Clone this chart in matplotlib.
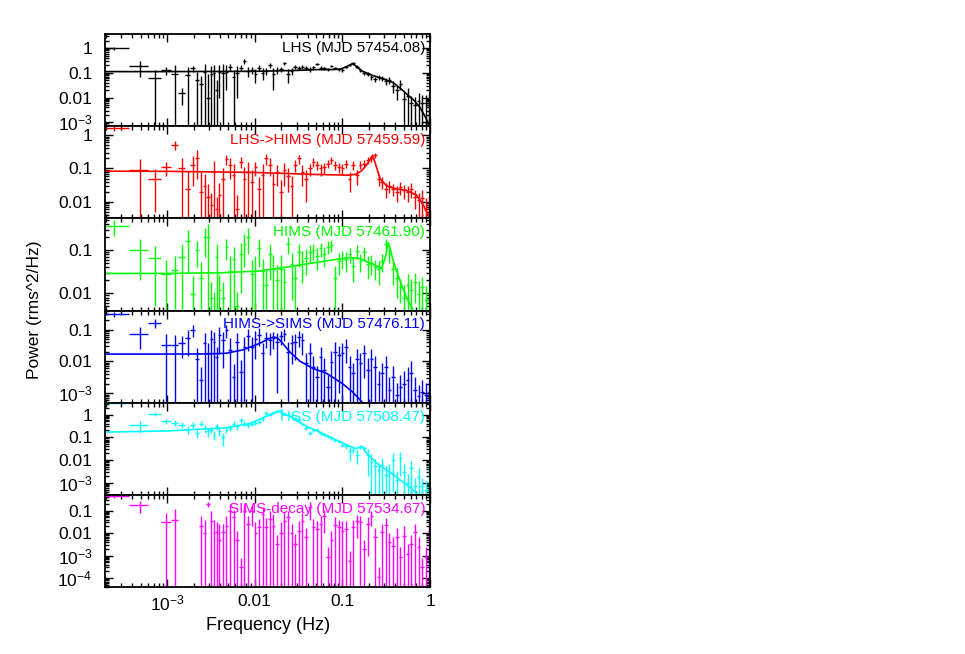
import numpy as np
import matplotlib
matplotlib.use('Agg')
import matplotlib.pyplot as plt
from matplotlib.ticker import LogLocator, FuncFormatter, NullFormatter

plt.rcParams['font.family'] = ['Liberation Sans', 'DejaVu Sans']
plt.rcParams['mathtext.fontset'] = 'custom'
plt.rcParams['mathtext.rm'] = 'Liberation Sans'
plt.rcParams['mathtext.it'] = 'Liberation Sans:italic'
plt.rcParams['mathtext.default'] = 'regular'

nan = np.nan

# frequency bins (Hz), same grid for all observations
freq = [2.44e-4, 4.88e-4, 7.32e-4, 9.77e-4, 1.22e-3, 1.46e-3, 1.71e-3, 1.95e-3,
        2.20e-3, 2.44e-3, 2.69e-3, 2.93e-3, 3.17e-3, 3.42e-3, 3.66e-3, 3.91e-3,
        4.30e-3, 4.73e-3, 5.20e-3, 5.72e-3, 6.30e-3, 6.93e-3, 7.62e-3, 8.38e-3, 9.22e-3,
        0.01014, 0.01115, 0.01227, 0.0135, 0.01485, 0.01633, 0.01797, 0.01976,
        0.02174, 0.02391, 0.0263, 0.02893, 0.03183, 0.03501, 0.03851, 0.04236,
        0.0466, 0.05126, 0.05638, 0.06202, 0.06822, 0.07505, 0.08255, 0.09081,
        0.0999, 0.1099, 0.1209, 0.1329, 0.1462, 0.1609, 0.177, 0.1947, 0.2141,
        0.2355, 0.2591, 0.285, 0.3135, 0.3448, 0.3793, 0.4172, 0.459, 0.5049,
        0.5553, 0.6109, 0.672, 0.7392, 0.8131, 0.8944, 0.9838]

# LHS (MJD 57454.08)
pow_lhs = [1.0, 0.19, 0.06, 0.13, 0.09, 0.015, 0.08, 0.15, 0.05, 0.035, 0.11, 0.01, 0.09, 0.1, 0.02, 0.11,
           0.1, 0.11, 0.17, 0.065, 0.1, 0.16, 0.29, 0.12, 0.13,
           0.09, 0.16, 0.1, 0.12, 0.2, 0.09, 0.13, 0.14, 0.24, 0.09, 0.12, 0.18, 0.16, 0.17, 0.16, 0.14,
           0.17, 0.23, 0.16, 0.15, 0.14, 0.19, 0.16, 0.14,
           0.13, 0.17, 0.21, 0.24, 0.18, 0.13, 0.1, 0.09, 0.065, 0.056, 0.065, 0.06, 0.048, 0.051,
           0.03, 0.02, 0.035, 0.009, 0.012, 0.006, 0.005, 0.0075, 0.006, 0.006, 0.0075]
err_lhs = [0.15, 0.12, 0.065, 0.05, 0.11, 0.01, 0.09, 0.04, 0.06, 0.04, 0.12, 0.08, 0.1, 0.11, 0.03, 0.1,
           0.12, 0.09, 0.05, 0.07, 0.09, 0.04, 0.07, 0.05, 0.04,
           0.05, 0.04, 0.05, 0.04, 0.04, 0.07, 0.04, 0.035, 0.04, 0.05, 0.035, 0.035, 0.03, 0.03, 0.03, 0.03,
           0.025, 0.03, 0.025, 0.025, 0.02, 0.025, 0.02, 0.02,
           0.02, 0.02, 0.025, 0.025, 0.02, 0.02, 0.018, 0.018, 0.015, 0.015, 0.015, 0.015, 0.015, 0.015,
           0.015, 0.012, 0.015, 0.008, 0.012, 0.006, 0.006, 0.008, 0.007, 0.007, 0.008]

# LHS->HIMS (MJD 57459.59)
pow_lh = [1.6, 0.09, 0.05, 0.11, 0.5, 0.1, 0.025, 0.13, 0.2, 0.02, 0.03, 0.014, 0.008, 0.08, 0.006, 0.016,
          0.05, 0.19, 0.13, 0.063, 0.0063, 0.16, 0.05, 0.08, 0.04,
          0.11, 0.025, 0.063, 0.2, 0.13, 0.035, 0.08, 0.02, 0.09, 0.06, 0.03, 0.13, 0.2, 0.08, 0.05, 0.1,
          0.16, 0.13, 0.1, 0.11, 0.14, 0.18, 0.13, 0.11,
          0.1, 0.14, 0.05, 0.13, 0.063, 0.13, 0.14, 0.18, 0.2, 0.25, 0.05, 0.04, 0.025, 0.03,
          0.025, 0.02, 0.028, 0.022, 0.02, 0.025, 0.014, 0.011, 0.013, 0.006, 0.008]
err_lh = [0.3, 0.1, 0.045, 0.05, 0.15, 0.1, 0.06, 0.1, 0.15, 0.06, 0.04, 0.02, 0.01, 0.09, 0.008, 0.02,
          0.05, 0.06, 0.08, 0.07, 0.01, 0.06, 0.06, 0.08, 0.05,
          0.05, 0.03, 0.07, 0.07, 0.07, 0.04, 0.05, 0.025, 0.06, 0.04, 0.03, 0.05, 0.06, 0.05, 0.04, 0.04,
          0.05, 0.04, 0.04, 0.04, 0.04, 0.04, 0.04, 0.035,
          0.035, 0.04, 0.03, 0.04, 0.03, 0.035, 0.035, 0.04, 0.04, 0.05, 0.02, 0.015, 0.012, 0.012,
          0.01, 0.01, 0.012, 0.01, 0.01, 0.012, 0.008, 0.008, 0.01, 0.007, 0.008]

# HIMS (MJD 57461.90)
pow_hims = [0.36, 0.1, 0.065, 0.028, 0.035, 0.07, 0.16, 0.0097, 0.1, 0.023, 0.2, 0.2, 0.008, 0.005, 0.07, 0.012,
            0.008, 0.12, 0.033, 0.062, 0.005, 0.08, 0.14, 0.2, 0.028,
            0.033, 0.11, 0.033, 0.016, 0.08, 0.036, 0.02, 0.036, 0.018, 0.14, 0.047, 0.023, 0.09, 0.057, 0.067, 0.09,
            0.1, 0.075, 0.11, 0.08, 0.12, 0.13, 0.023, 0.057,
            0.067, 0.062, 0.08, 0.043, 0.097, 0.057, 0.09, 0.047, 0.052, 0.04, 0.036, 0.057, 0.14, 0.08,
            0.036, 0.023, 0.014, 0.008, 0.016, 0.012, 0.018, 0.0097, 0.014, 0.007, 0.0097]
err_hims = [0.15, 0.08, 0.06, 0.03, 0.04, 0.07, 0.13, 0.015, 0.06, 0.03, 0.13, 0.2, 0.01, 0.006, 0.07, 0.015,
            0.01, 0.06, 0.04, 0.06, 0.006, 0.07, 0.1, 0.12, 0.03,
            0.04, 0.07, 0.03, 0.02, 0.06, 0.04, 0.025, 0.04, 0.02, 0.06, 0.04, 0.02, 0.05, 0.04, 0.04, 0.04,
            0.04, 0.04, 0.04, 0.04, 0.04, 0.04, 0.02, 0.03,
            0.03, 0.03, 0.03, 0.025, 0.035, 0.025, 0.03, 0.025, 0.025, 0.02, 0.02, 0.025, 0.04, 0.03,
            0.02, 0.015, 0.008, 0.008, 0.012, 0.01, 0.012, 0.01, 0.01, 0.008, 0.01]

# HIMS->SIMS (MJD 57476.11)
pow_hs = [0.3, 0.075, 0.16, 0.034, 0.033, 0.038, 0.055, 0.1, 0.012, 0.0026, 0.037, 0.018, 0.05, 0.04, 0.014, 0.067,
          0.046, 0.095, 0.023, 0.0033, 0.04, 0.0047, 0.029, 0.062, 0.029,
          0.052, 0.07, 0.018, 0.056, 0.046, 0.055, 0.041, 0.062, 0.075, 0.02, 0.038, 0.041, 0.059, 0.046, 0.0087, 0.018,
          0.0068, 0.0033, 0.014, 0.0054, 0.0016, 0.0098, 0.02, 0.016,
          0.018, 0.029, 0.0068, 0.0042, 0.012, 0.0087, 0.018, 0.0054, 0.012, 0.0068, 0.002, 0.0042, 0.0068, 0.0013,
          0.0033, 0.0009, 0.0016, 0.002, 0.0026, 0.0042, 0.0013, 0.0008, 0.0011, 0.0009, 0.0011]
err_hs = [0.05, 0.05, 0.05, 0.04, 0.035, 0.025, 0.04, 0.04, 0.015, 0.004, 0.04, 0.02, 0.05, 0.045, 0.015, 0.05,
          0.04, 0.04, 0.03, 0.005, 0.04, 0.006, 0.03, 0.04, 0.03,
          0.04, 0.04, 0.02, 0.03, 0.03, 0.03, 0.04, 0.03, 0.03, 0.02, 0.03, 0.03, 0.03, 0.03, 0.01, 0.02,
          0.008, 0.004, 0.015, 0.007, 0.002, 0.012, 0.02, 0.015,
          0.02, 0.02, 0.008, 0.005, 0.012, 0.01, 0.015, 0.007, 0.012, 0.008, 0.003, 0.005, 0.008, 0.002,
          0.004, 0.0012, 0.002, 0.003, 0.004, 0.006, 0.002, 0.001, 0.0015, 0.0012, 0.0015]

# HSS (MJD 57508.47)
pow_hss = [3.2, 0.33, 1.07, 0.5, 0.43, 0.36, 0.22, 0.36, 0.155, 0.4, 0.26, 0.18, 0.22, 0.13, 0.3, 0.18,
           0.1, 0.22, 0.26, 0.4, 0.3, 0.56, 0.4, 0.36, 0.39,
           0.43, 0.46, 0.64, 1.2, 1.0, 1.2, 1.4, 1.55, 1.1, 1.0, 0.9, 0.71, 0.56, 0.4, 0.26, 0.155,
           0.2, 0.22, 0.155, 0.13, 0.11, 0.094, 0.074, 0.067,
           0.047, 0.04, 0.024, 0.029, 0.017, 0.04, 0.034, 0.017, 0.0087, 0.0053, 0.0037, 0.0062, 0.0023, 0.0031,
           0.0104, 0.0014, 0.012, 0.0031, 0.001, 0.0045, 0.0007, 0.0019, 0.0007, 0.0005, 0.0045]
err_hss = [0.3, 0.17, 0.2, 0.12, 0.12, 0.1, 0.08, 0.1, 0.06, 0.1, 0.1, 0.08, 0.07, 0.05, 0.08, 0.07,
           0.06, 0.07, 0.07, 0.1, 0.08, 0.12, 0.1, 0.1, 0.09,
           0.09, 0.09, 0.12, 0.2, 0.15, 0.18, 0.2, 0.2, 0.15, 0.13, 0.12, 0.1, 0.08, 0.06, 0.04, 0.03,
           0.035, 0.035, 0.025, 0.02, 0.018, 0.015, 0.012, 0.012,
           0.01, 0.01, 0.015, 0.008, 0.01, 0.008, 0.008, 0.015, 0.01, 0.006, 0.004, 0.006, 0.003, 0.004,
           0.01, 0.002, 0.01, 0.004, 0.0015, 0.005, 0.001, 0.0025, 0.001, 0.0007, 0.005]

# SIMS-decay (MJD 57534.67)
pow_dec = [0.45, 0.18, nan, 0.03, 0.04, nan, nan, nan, nan, 0.02, 0.01, 0.2, 0.036, 0.01, 0.011, 0.005,
           0.011, 0.02, 0.1, 0.05, 0.0047, 0.0003, 0.1, 0.026, 0.1,
           0.01, 0.018, 0.07, 0.018, 0.043, 0.02, 0.0033, 0.01, 0.036, 0.05, 0.01, 0.0033, 0.013, 0.036, 0.0066, 0.14,
           0.018, 0.015, 0.026, 0.06, 0.0009, 0.0047, 0.022, 0.018,
           0.013, 0.015, 0.0006, 0.018, 0.036, 0.03, 0.002, 0.026, 0.06, 0.0066, 0.00011, 0.011, 0.022, 0.004,
           0.0028, 0.0066, 0.0009, 0.0078, 0.0012, 0.0033, 0.011, 0.0024, 0.0003, 0.0009, 0.013]
err_dec = [0.1, 0.1, nan, 0.05, 0.08, nan, nan, nan, nan, 0.04, 0.03, 0.05, 0.06, 0.03, 0.02, 0.02,
           0.015, 0.04, 0.1, 0.06, 0.008, 0.0005, 0.1, 0.03, 0.08,
           0.02, 0.025, 0.07, 0.03, 0.05, 0.05, 0.005, 0.02, 0.05, 0.05, 0.015, 0.006, 0.02, 0.04, 0.01, 0.1,
           0.025, 0.02, 0.03, 0.05, 0.0015, 0.008, 0.03, 0.02,
           0.02, 0.02, 0.001, 0.02, 0.03, 0.03, 0.003, 0.025, 0.04, 0.01, 0.0002, 0.015, 0.025, 0.006,
           0.004, 0.01, 0.0015, 0.012, 0.002, 0.005, 0.015, 0.004, 0.0005, 0.0015, 0.02]

# best-fit model curves
mod_f_lhs = [2e-4, 1e-3, 0.01, 0.03, 0.05, 0.075, 0.094, 0.112, 0.125, 0.133, 0.145, 0.165, 0.225, 0.3, 0.38, 0.47, 0.54, 0.65, 0.77, 0.88, 0.98]
mod_p_lhs = [0.112, 0.112, 0.115, 0.125, 0.135, 0.135, 0.14, 0.18, 0.22, 0.23, 0.18, 0.12, 0.077, 0.055, 0.04, 0.022, 0.014, 0.008, 0.004, 0.0017, 0.0008]
mod_f_lh = [2e-4, 1e-3, 0.01, 0.05, 0.12, 0.145, 0.165, 0.19, 0.21, 0.221, 0.245, 0.268, 0.32, 0.4, 0.54, 0.7, 0.84, 0.98]
mod_p_lh = [0.083, 0.082, 0.076, 0.066, 0.063, 0.068, 0.085, 0.13, 0.2, 0.25, 0.11, 0.05, 0.03, 0.025, 0.022, 0.016, 0.008, 0.0035]
mod_f_hims = [2e-4, 1e-3, 4e-3, 0.0114, 0.0274, 0.066, 0.122, 0.158, 0.225, 0.28, 0.31, 0.334, 0.355, 0.38, 0.454, 0.54, 0.645]
mod_p_hims = [0.029, 0.029, 0.03, 0.033, 0.043, 0.057, 0.068, 0.064, 0.047, 0.038, 0.07, 0.15, 0.1, 0.057, 0.02, 0.008, 0.004]
mod_f_hs = [2e-4, 1e-3, 3e-3, 4.7e-3, 7.3e-3, 0.0114, 0.0145, 0.0165, 0.0185, 0.0202, 0.025, 0.033, 0.046, 0.066, 0.1, 0.13, 0.16, 0.17]
mod_p_hs = [0.017, 0.017, 0.0172, 0.018, 0.023, 0.037, 0.052, 0.059, 0.052, 0.041, 0.02, 0.01, 0.006, 0.0042, 0.002, 0.0011, 0.0006, 0.0005]
mod_f_hss = [2e-4, 1e-3, 1.97e-3, 4.7e-3, 8.7e-3, 0.0136, 0.0185, 0.025, 0.0356, 0.066, 0.122, 0.145, 0.166, 0.19, 0.246, 0.38, 0.59, 0.70]
mod_p_hss = [0.17, 0.19, 0.22, 0.26, 0.4, 0.84, 1.4, 0.84, 0.36, 0.12, 0.04, 0.032, 0.04, 0.02, 0.0074, 0.0023, 0.00065, 0.00035]

labels = ['LHS (MJD 57454.08)', 'LHS->HIMS (MJD 57459.59)', 'HIMS (MJD 57461.90)',
          'HIMS->SIMS (MJD 57476.11)', 'HSS (MJD 57508.47)', 'SIMS-decay (MJD 57534.67)']
colors = ['black', '#ff0000', '#00ff00', '#0000ff', '#00ffff', '#ff00ff']
powers = [pow_lhs, pow_lh, pow_hims, pow_hs, pow_hss, pow_dec]
errors = [err_lhs, err_lh, err_hims, err_hs, err_hss, err_dec]
models = [(mod_f_lhs, mod_p_lhs), (mod_f_lh, mod_p_lh), (mod_f_hims, mod_p_hims),
          (mod_f_hs, mod_p_hs), (mod_f_hss, mod_p_hss), None]
ylims = [(7e-4, 3.7), (3.2e-3, 1.85), (4e-3, 0.55), (5e-4, 0.4), (3e-4, 3.3), (4e-5, 0.5)]


def tick_fmt(v, pos):
    if v >= 0.01:
        return '%g' % v
    return r'$10^{%d}$' % int(round(np.log10(v)))


f = np.array(freq)
mids = (f[:-1] + f[1:]) / 2
lo_edge = np.concatenate([[f[0] - (f[1] - f[0]) / 2], mids])
hi_edge = np.concatenate([mids, [f[-1] + (f[-1] - f[-2]) / 2]])

fig, axes = plt.subplots(6, 1, sharex=True, figsize=(9.65, 6.54), dpi=100)
fig.subplots_adjust(left=0.1088, right=0.4456, top=0.948, bottom=0.1024, hspace=0)

for i, ax in enumerate(axes):
    c = colors[i]
    p = np.array(powers[i], dtype=float)
    e = np.array(errors[i], dtype=float)
    ylo = np.where(p - e > 0, p - e, 1e-9)
    ax.errorbar(f, p, xerr=[f - lo_edge, hi_edge - f], yerr=[p - ylo, e],
                fmt='none', ecolor=c, elinewidth=1.0, capsize=0)
    if models[i] is not None:
        ax.plot(models[i][0], models[i][1], color=c, lw=1.2)
    ax.set_xscale('log')
    ax.set_yscale('log')
    ax.set_xlim(1.95e-4, 1.0)
    ax.set_ylim(*ylims[i])
    ax.text(0.985, 0.85, labels[i], color=c, fontsize=11, ha='right', va='center',
            transform=ax.transAxes)
    ax.yaxis.set_major_locator(LogLocator(base=10, numticks=10))
    ax.yaxis.set_minor_locator(LogLocator(base=10, subs=np.arange(2, 10), numticks=20))
    ax.yaxis.set_major_formatter(FuncFormatter(tick_fmt))
    ax.yaxis.set_minor_formatter(NullFormatter())
    ax.xaxis.set_major_locator(LogLocator(base=10, numticks=10))
    ax.xaxis.set_minor_locator(LogLocator(base=10, subs=np.arange(2, 10), numticks=20))
    ax.xaxis.set_major_formatter(FuncFormatter(tick_fmt))
    ax.xaxis.set_minor_formatter(NullFormatter())
    ax.tick_params(which='both', direction='in', top=True, right=True, width=1.0,
                   labelsize=12.5)
    ax.tick_params(which='major', length=6)
    ax.tick_params(which='minor', length=3)
    ax.tick_params(axis='y', which='both', pad=9)
    ax.tick_params(axis='x', which='both', pad=5)
    for s in ax.spines.values():
        s.set_linewidth(1.3)

fig.text(0.036, 0.526, 'Power (rms^2/Hz)', rotation=90, ha='center', va='center', fontsize=12.5)
fig.text(0.278, 0.044, 'Frequency (Hz)', ha='center', va='center', fontsize=13)

plt.savefig('out.png', dpi=100)
